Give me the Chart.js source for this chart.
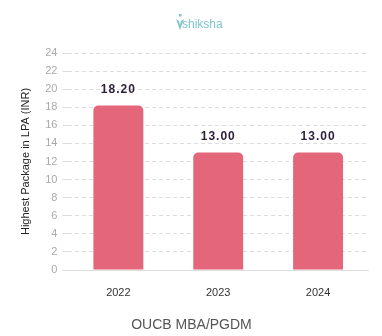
<!DOCTYPE html>
<html>
<head>
<meta charset="utf-8">
<script src="https://cdn.jsdelivr.net/npm/chart.js@4.4.0/dist/chart.umd.min.js"></script>
<style>
  html, body { margin: 0; padding: 0; background: #fff; }
  #wrap { width: 382px; height: 336px; position: relative; }
</style>
</head>
<body>
<div id="wrap"><canvas id="myChart" width="382" height="336"></canvas></div>
<script>
// chart data
const years = ["2022", "2023", "2024"]
const packages = [18.20, 13.00, 13.00]
const chartTitle = "OUCB MBA/PGDM"
const yTitle = "Highest Package in LPA (INR)"

// draws values above bars + the shiksha mark at the top
const barLabels = {
    id: 'barLabels',
    afterDatasetsDraw(chart) {
        const ctx = chart.ctx
        const meta = chart.getDatasetMeta(0)
        ctx.save()
        ctx.font = "bold 12px 'Liberation Sans', Arial, sans-serif"
        ctx.fillStyle = "#2b1f3a"
        ctx.textAlign = "center"
        ctx.textBaseline = "middle"
        if ('letterSpacing' in ctx) ctx.letterSpacing = "1px"
        meta.data.forEach((bar, i) => {
            ctx.fillText(packages[i].toFixed(2), bar.x, bar.y - 16)
        })
        ctx.restore()

        // logo text
        ctx.save()
        ctx.font = "12px 'Liberation Sans', Arial, sans-serif"
        ctx.fillStyle = "#7fc6cc"
        ctx.textAlign = "left"
        ctx.textBaseline = "middle"
        ctx.fillText("shiksha", 182, 25)
        ctx.beginPath()
        ctx.moveTo(176, 19)
        ctx.lineTo(180, 30)
        ctx.lineTo(184, 19)
        ctx.lineTo(181, 21)
        ctx.lineTo(180, 25)
        ctx.lineTo(179, 21)
        ctx.closePath()
        ctx.fill()
        ctx.fillRect(179, 14, 2.5, 2.5)
        ctx.restore()
    }
}

const ctx = document.getElementById('myChart')

new Chart(ctx, {
    type: 'bar',
    data: {
        labels: years,
        datasets: [{
            data: packages,
            backgroundColor: "#e4667a",
            borderRadius: { topLeft: 5, topRight: 5 },
            borderSkipped: 'bottom',
            categoryPercentage: 1.0,
            barPercentage: 0.5
        }]
    },
    options: {
        responsive: false,
        animation: false,
        devicePixelRatio: 1,
        layout: { padding: { top: 53, right: 14, left: 15, bottom: 2 } },
        plugins: {
            legend: { display: false },
            tooltip: { enabled: false },
            title: {
                display: true,
                text: chartTitle,
                position: 'bottom',
                color: "#555",
                font: { family: "'Liberation Sans', Arial, sans-serif", size: 14, weight: 'normal' },
                padding: { top: 10, bottom: 0 }
            }
        },
        scales: {
            x: {
                grid: { display: false },
                border: { display: true, color: "#ddd" },
                ticks: {
                    color: "#333",
                    font: { family: "'Liberation Sans', Arial, sans-serif", size: 11 },
                    padding: 8
                }
            },
            y: {
                min: 0,
                max: 24,
                ticks: {
                    stepSize: 2,
                    color: "#aaa",
                    font: { family: "'Liberation Sans', Arial, sans-serif", size: 11 },
                    padding: 5
                },
                grid: {
                    color: "#ddd",
                    tickLength: 6,
                    drawTicks: true
                },
                border: { display: false, dash: [4, 3] },
                title: {
                    display: true,
                    text: yTitle,
                    color: "#222",
                    font: { family: "'Liberation Sans', Arial, sans-serif", size: 11 },
                    padding: { bottom: 8 }
                }
            }
        }
    },
    plugins: [barLabels]
})
</script>
</body>
</html>
